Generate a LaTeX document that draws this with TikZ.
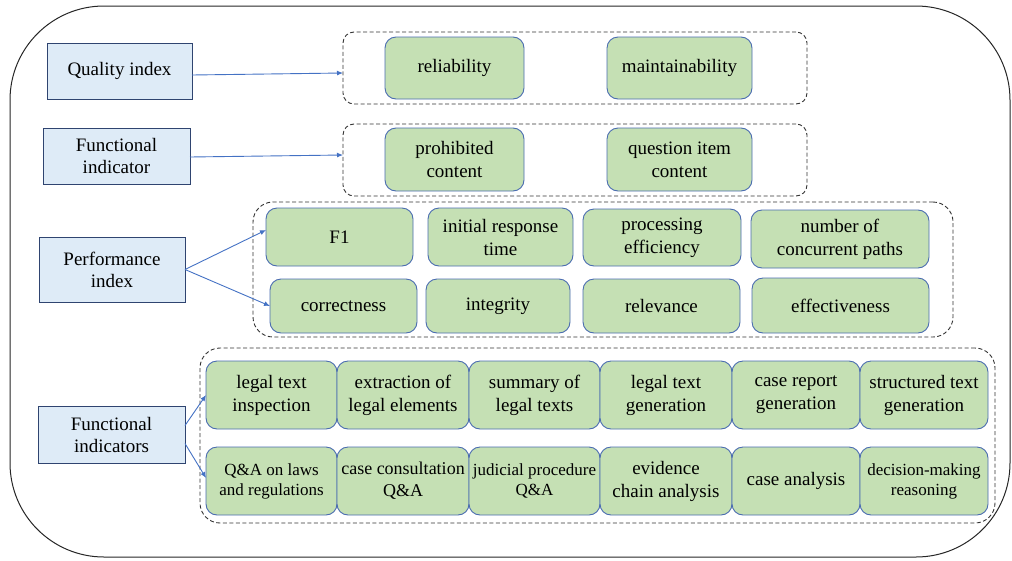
\documentclass[tikz,border=0pt]{standalone}
\usepackage{fontspec}
\setmainfont{LiberationSerif-Regular.ttf}
\usetikzlibrary{arrows.meta}
\definecolor{bfill}{HTML}{DEEBF7}
\definecolor{bline}{HTML}{2F4470}
\definecolor{gfill}{HTML}{C5E0B4}
\definecolor{gline}{HTML}{4A6CB0}
\definecolor{arr}{HTML}{4472C4}
\definecolor{dsh}{HTML}{333333}
\tikzset{
  bbox/.style={draw=bline, fill=bfill, line width=0.9pt, align=center, inner sep=0pt, outer sep=0pt, font=\fontsize{19}{22}\selectfont},
  gbox/.style={draw=gline, fill=gfill, line width=0.9pt, rounded corners=11pt, align=center, inner sep=0pt, outer sep=0pt, font=\fontsize{19}{23}\selectfont},
  grp/.style={draw=dsh, line width=0.9pt, dash pattern=on 4pt off 2.5pt, inner sep=0pt, outer sep=0pt},
  conn/.style={draw=arr, line width=0.9pt, -{Latex[length=6pt,width=5pt]}},
  sm/.style={font=\fontsize{17}{20}\selectfont},
}
\newcommand{\bx}[6]{\node[#1, minimum width=#4pt, minimum height=#5pt] (#6) at (#2,#3)}
\begin{document}
\begin{tikzpicture}[x=1pt,y=-1pt]
\useasboundingbox (0,0) rectangle (1012,560);
\draw[line width=1pt, draw=black!85, rounded corners=94pt] (10,6) rectangle (1010,557);
% groups
\bx{grp, rounded corners=11pt}{575}{68}{464}{72}{g1} {};
\bx{grp, rounded corners=11pt}{575}{160}{464}{72}{g2} {};
\bx{grp, rounded corners=20pt}{603}{269.5}{700}{135}{g3} {};
\bx{grp, rounded corners=20pt}{597.5}{435.5}{795}{175}{g4} {};
% left boxes
\bx{bbox}{119.5}{71}{145}{56}{qi} {Quality index};
\bx{bbox}{116.5}{156}{147}{56}{fi} {Functional\\indicator};
\bx{bbox}{112}{269.5}{146}{65}{pi} {Performance\\index};
\bx{bbox}{111.5}{434.5}{147}{57}{fis} {Functional\\indicators};
% group 1 and 2
\bx{gbox}{454.5}{68}{139}{62}{rel} {reliability};
\bx{gbox}{679.5}{68}{145}{62}{mnt} {maintainability};
\bx{gbox}{454.5}{159.5}{139}{63}{pro} {prohibited\\content};
\bx{gbox}{679.5}{159.5}{145}{63}{qic} {question item\\content};
% group 3
\bx{gbox}{339.5}{237}{147}{58}{f1} {F1};
\bx{gbox}{500.5}{237}{145}{58}{irt} {initial response\\time};
\bx{gbox}{662}{237.5}{158}{57}{pe} {processing\\efficiency};
\bx{gbox}{840}{239}{178}{58}{ncp} {number of\\concurrent paths};
\bx{gbox}{343.5}{306}{147}{54}{cor} {correctness};
\bx{gbox}{498}{306}{144}{54}{int} {integrity};
\bx{gbox}{661.5}{306}{157}{54}{rlv} {relevance};
\bx{gbox}{840.5}{305.5}{177}{55}{eff} {effectiveness};
% group 4
\bx{gbox}{271.5}{395}{131}{68}{lti} {legal text\\inspection};
\bx{gbox}{403}{395}{132}{68}{ele} {extraction of\\legal elements};
\bx{gbox}{534.5}{395}{131}{68}{sum} {summary of\\legal texts};
\bx{gbox}{666}{395}{132}{68}{ltg} {legal text\\generation};
\bx{gbox}{796}{395}{128}{68}{crg} {case report\\generation};
\bx{gbox}{924}{395}{128}{68}{stg} {structured text\\generation};
\bx{gbox, sm}{271.5}{481}{131}{68}{qal} {Q\&A on laws\\and regulations};
\bx{gbox, font=\fontsize{18}{22}\selectfont}{403}{481}{132}{68}{ccq} {case consultation\\Q\&A};
\bx{gbox, sm}{534.5}{481}{131}{68}{jpq} {judicial procedure\\Q\&A};
\bx{gbox}{666}{481}{132}{68}{eca} {evidence\\chain analysis};
\bx{gbox}{796}{481}{128}{68}{can} {case analysis};
\bx{gbox, sm}{924}{481}{128}{68}{dmr} {decision-making\\reasoning};
% connectors
\draw[conn] ([yshift=-4pt]qi.east) -- ([yshift=-5pt]g1.west);
\draw[conn] ([yshift=-1pt]fi.east) -- ([yshift=5pt]g2.west);
\draw[conn] (pi.east) -- ([yshift=7pt]f1.west);
\draw[conn] (pi.east) -- (cor.west);
\draw[conn] ([yshift=9pt]fis.east) -- (lti.west);
\draw[conn] ([yshift=-9pt]fis.east) -- ([yshift=3pt]qal.west);
\end{tikzpicture}
\end{document}
